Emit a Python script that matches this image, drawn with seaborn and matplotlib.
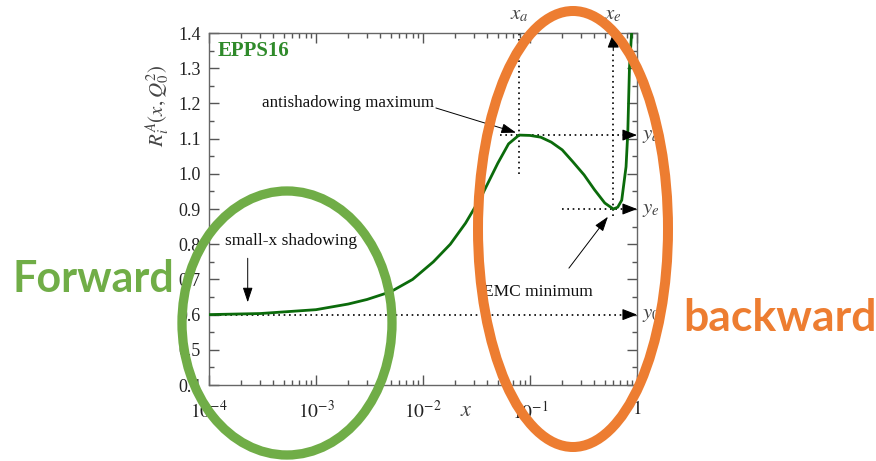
import numpy as np
import pandas as pd
import matplotlib
matplotlib.use("Agg")
import matplotlib.pyplot as plt
import seaborn as sns
from matplotlib.patches import Ellipse
from matplotlib.ticker import FixedLocator, NullFormatter, MultipleLocator

# ---- data ----
x_vals = [1e-4, 3e-4, 1e-3, 2e-3, 3e-3, 5e-3, 8e-3, 1.25e-2, 1.8e-2, 2.5e-2,
          3.5e-2, 5e-2, 6.3e-2, 7.9e-2, 1e-1, 1.26e-1, 1.58e-1, 2e-1, 2.5e-1,
          3.2e-1, 4e-1, 5e-1, 6e-1, 6.6e-1, 7.2e-1, 7.9e-1, 8.2e-1, 8.5e-1,
          8.9e-1, 9.1e-1]
r_vals = [0.600, 0.603, 0.614, 0.630, 0.643, 0.665, 0.700, 0.750, 0.800, 0.860,
          0.935, 1.030, 1.085, 1.110, 1.109, 1.104, 1.090, 1.068, 1.035,
          0.997, 0.955, 0.917, 0.900, 0.905, 0.925, 1.020, 1.116, 1.300,
          1.400, 1.460]
x_ticks = [1e-4, 1e-3, 1e-2, 1e-1, 1]
x_ticklabels = [r"$10^{-4}$", r"$10^{-3}$", r"$10^{-2}$", r"$10^{-1}$", r"$1$"]
y_ticks = [0.4, 0.5, 0.6, 0.7, 0.8, 0.9, 1.0, 1.1, 1.2, 1.3, 1.4]
y0, ya, ye = 0.60, 1.11, 0.90
xa, xe = 7.9e-2, 6.0e-1

df = pd.DataFrame({"x": x_vals, "R": r_vals})

sns.set_style("ticks")
plt.rcParams["font.family"] = ["Liberation Serif", "DejaVu Serif"]
plt.rcParams["mathtext.fontset"] = "stix"

W, H = 876, 461
fig = plt.figure(figsize=(W / 100, H / 100), dpi=100)
L, R, T, B = 209, 637, 33, 385
ax = fig.add_axes([L / W, 1 - B / H, (R - L) / W, (B - T) / H])

sns.lineplot(data=df, x="x", y="R", ax=ax, color="#0b6b0b", lw=2.0,
             estimator=None, sort=False, zorder=3)
ax.set_xscale("log")
ax.set_xlim(1e-4, 1)
ax.set_ylim(0.4, 1.4)
ax.set_xlabel("")
ax.set_ylabel("")

ax.set_xticks(x_ticks)
ax.set_xticklabels(x_ticklabels)
minor = [m * 10.0 ** e for e in range(-4, 0) for m in range(2, 10)]
ax.xaxis.set_minor_locator(FixedLocator(minor))
ax.xaxis.set_minor_formatter(NullFormatter())
ax.set_yticks(y_ticks)
ax.set_yticklabels([f"{v:.1f}" for v in y_ticks])
ax.yaxis.set_minor_locator(MultipleLocator(0.05))
ax.tick_params(which="both", direction="in", top=True, right=True,
               color="#555555", width=1.0)
ax.tick_params(which="major", length=7)
ax.tick_params(which="minor", length=3.5)
ax.tick_params(axis="y", labelsize=13, pad=6, colors="#222222")
ax.tick_params(axis="x", labelsize=14, pad=11, colors="#222222")
ax.tick_params(axis="both", which="both", color="#555555")
for s in ax.spines.values():
    s.set_color("#666666")
    s.set_linewidth(1.0)

dot = dict(color="black", ls=(0, (1, 2.2)), lw=1.2, zorder=2)
head = dict(arrowstyle="-|>,head_length=0.9,head_width=0.35", color="black",
            lw=0.8, shrinkA=0, shrinkB=0)
# horizontal dotted lines with arrowheads at the right edge
ax.plot([1e-4, 0.85], [y0, y0], **dot)
ax.annotate("", xy=(1.0, y0), xytext=(0.80, y0), arrowprops=head, zorder=4)
ax.plot([0.052, 0.85], [ya, ya], **dot)
ax.annotate("", xy=(1.0, ya), xytext=(0.80, ya), arrowprops=head, zorder=4)
ax.plot([0.2, 0.85], [ye, ye], **dot)
ax.annotate("", xy=(1.0, ye), xytext=(0.80, ye), arrowprops=head, zorder=4)
# vertical dotted lines
ax.plot([xa, xa], [1.0, 1.4], **dot)
ax.plot([xe, xe], [0.88, 1.35], **dot)
ax.annotate("", xy=(xe, 1.4), xytext=(xe, 1.35), arrowprops=head, zorder=4)

# labels of the marked points
lblc = "#444444"
ax.text(xa, 1.425, r"$x_a$", ha="center", va="bottom", fontsize=15, color=lblc, clip_on=False)
ax.text(xe, 1.425, r"$x_e$", ha="center", va="bottom", fontsize=15, color=lblc, clip_on=False)
for yy, lab in [(ya, r"$y_a$"), (ye, r"$y_e$"), (y0, r"$y_0$")]:
    ax.text(1.12, yy, lab, ha="left", va="center", fontsize=15, color=lblc, clip_on=False)

thin = dict(arrowstyle="-|>,head_length=0.9,head_width=0.3", color="black",
            lw=0.7, shrinkA=0, shrinkB=0)
# annotations
ax.text(2.0e-3, 1.20, "antishadowing maximum", ha="center", va="center",
        fontsize=12.2, color="#111111")
ax.annotate("", xy=(0.074, 1.117), xytext=(0.0132, 1.187), arrowprops=thin)
ax.text(5.8e-4, 0.81, "small-x shadowing", ha="center", va="center",
        fontsize=12.5, color="#111111")
ax.annotate("", xy=(2.3e-4, 0.635), xytext=(2.3e-4, 0.76), arrowprops=thin)
ax.text(0.118, 0.665, "EMC minimum", ha="center", va="center",
        fontsize=12.5, color="#111111")
ax.annotate("", xy=(0.535, 0.878), xytext=(0.231, 0.732), arrowprops=thin)
ax.text(1.2e-4, 1.35, "EPPS16", ha="left", va="center", fontsize=15,
        fontweight="bold", color="#2f8a2a")

# axis titles
fig.text(466 / W, 1 - 411 / H, r"$x$", ha="center", va="center", fontsize=16, color=lblc)
fig.text(158 / W, 1 - 106 / H, r"$R_i^A(x,Q_0^2)$", ha="center", va="center",
         rotation=90, fontsize=15, color=lblc)

# overlay highlights
green, orange = "#70ad47", "#ed7d31"
fig.patches.append(Ellipse((287 / W, 1 - 323 / H), 210 / W, 264 / H, fill=False,
                           ec=green, lw=6.7, transform=fig.transFigure, zorder=10))
fig.patches.append(Ellipse((573 / W, 1 - 229 / H), 190 / W, 436 / H, fill=False,
                           ec=orange, lw=7.2, transform=fig.transFigure, zorder=10))
fig.text(12 / W, 1 - 279 / H, "Forward", ha="left", va="center", fontsize=31,
         fontweight="bold", color=green, family=["Lato", "DejaVu Sans"], zorder=11)
fig.text(683 / W, 1 - 318 / H, "backward", ha="left", va="center", fontsize=32,
         fontweight="bold", color=orange, family=["Lato", "DejaVu Sans"], zorder=11)

fig.savefig("out.png", dpi=100)
